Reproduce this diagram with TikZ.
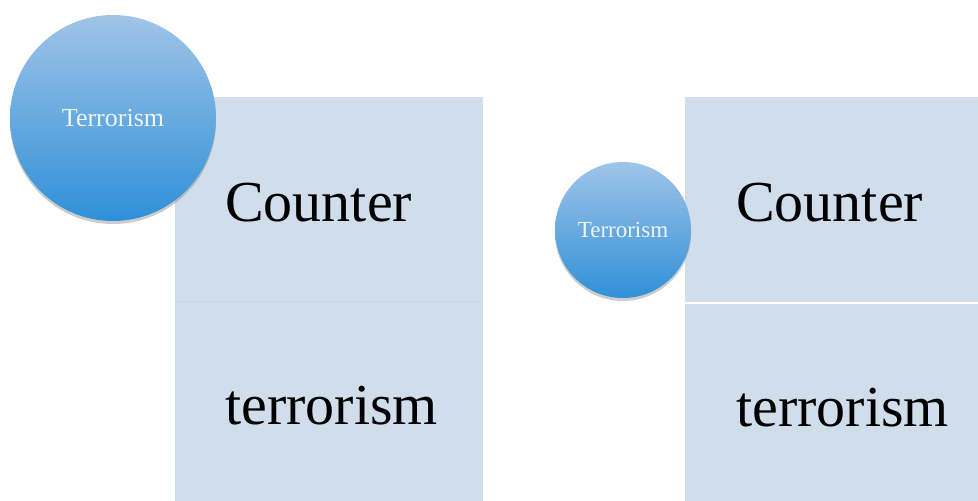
\documentclass[tikz,border=0pt]{standalone}
\usepackage{fontspec}
\setmainfont{Liberation Serif}
\usetikzlibrary{shadows}
\definecolor{cellblue}{HTML}{D0DEEB}
\definecolor{celledge}{HTML}{C8D6E4}
\definecolor{balltop}{HTML}{A0C4E8}
\definecolor{ballbot}{HTML}{2F90D8}
\definecolor{balltext}{HTML}{EEF4FB}
\tikzset{
  bubble/.style={circle,inner sep=0pt,top color=balltop,bottom color=ballbot,
    text=balltext,
    drop shadow={opacity=0.4,shadow xshift=0pt,shadow yshift=-3pt}},
  bigword/.style={anchor=base west,inner sep=0pt,font=\fontsize{58}{64}\selectfont}
}
\begin{document}
\begin{tikzpicture}[x=1pt,y=-1pt]
\useasboundingbox (0,0) rectangle (978,501);
% left block
\draw [fill=cellblue,draw=none] (175,97) rectangle (483,501);
\draw [celledge] (175,301) -- (483,301);
% right block
\draw [fill=cellblue,draw=none] (685,97) rectangle (978,501);
\draw [white,line width=2pt] (685,303) -- (978,303);
% words
\node [bigword] (lc) at (225,221) {Counter};
\node [bigword] (lt) at (225,424) {terrorism};
\node [bigword] (rc) at (736,221) {Counter};
\node [bigword] (rt) at (736,426) {terrorism};
% circles
\node [bubble,minimum size=206pt,font=\fontsize{26}{30}\selectfont] (lball) at (113,118) {Terrorism};
\node [bubble,minimum size=136pt,font=\fontsize{23}{27}\selectfont] (rball) at (623,230) {Terrorism};
\end{tikzpicture}
\end{document}
